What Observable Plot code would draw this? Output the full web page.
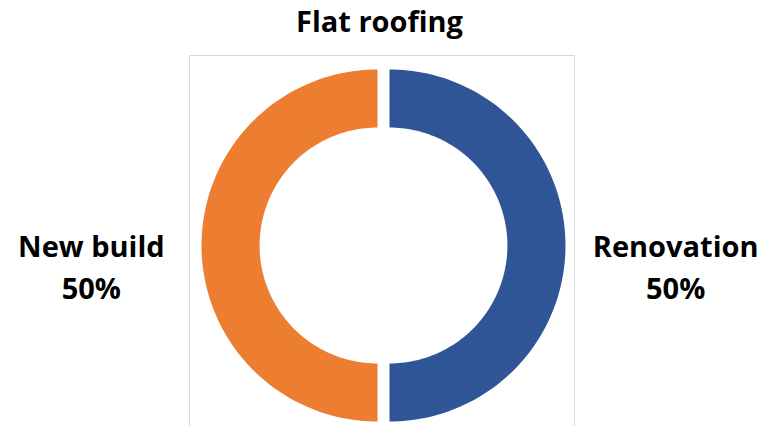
<!DOCTYPE html>
<html>
<head>
<meta charset="utf-8">
<script src="https://cdn.jsdelivr.net/npm/d3@7"></script>
<script src="https://cdn.jsdelivr.net/npm/@observablehq/plot@0.6"></script>
<style>
  html, body { margin: 0; padding: 0; background: #fff; }
  #wrap { width: 764px; height: 426px; overflow: hidden; position: relative; }
</style>
</head>
<body>
<div id="wrap"></div>
<script>
// Data
const title = "Flat roofing";
const categories = ["Renovation", "New build"];
const values = [50, 50];
const colors = ["#2F5597", "#ED7D31"];

// Build slice polygons through d3.pie
const total = d3.sum(values);
const pie = d3.pie().sort(null).value(d => d.value);
const arcs = pie(categories.map((c, i) => ({cat: c, value: values[i]})));
const inner = 0.67, outer = 1, explode = 0.034, steps = 120;
const poly = [];
for (const a of arcs) {
  const mid = (a.startAngle + a.endAngle) / 2;
  const ox = explode * Math.sin(mid), oy = explode * Math.cos(mid);
  for (let k = 0; k <= steps; k++) {
    const t = a.startAngle + (a.endAngle - a.startAngle) * k / steps;
    poly.push({cat: a.data.cat, x: ox + outer * Math.sin(t), y: oy + outer * Math.cos(t)});
  }
  for (let k = steps; k >= 0; k--) {
    const t = a.startAngle + (a.endAngle - a.startAngle) * k / steps;
    poly.push({cat: a.data.cat, x: ox + inner * Math.sin(t), y: oy + inner * Math.cos(t)});
  }
}
const labelR = 1.66;
const labels = arcs.map(a => {
  const mid = (a.startAngle + a.endAngle) / 2;
  return {
    x: labelR * Math.sin(mid),
    y: 0,
    text: a.data.cat + "\n" + Math.round(a.data.value / total * 100) + "%"
  };
});

const font = "'Open Sans', Lato, sans-serif";
const chart = Plot.plot({
  width: 764,
  height: 426,
  marginLeft: 189,
  marginRight: 190,
  marginTop: 55,
  marginBottom: -6,
  style: {background: "white", overflow: "visible"},
  x: {domain: [-1, 1], range: [207, 559], axis: null},
  y: {domain: [-1, 1], range: [421, 69], axis: null},
  color: {domain: categories, range: colors},
  marks: [
    Plot.frame({stroke: "#D9D9D9", strokeWidth: 1}),
    Plot.line(poly, {x: "x", y: "y", z: "cat", fill: "cat", stroke: "none", curve: "linear-closed"}),
    Plot.text(labels, {
      x: "x", y: "y", text: "text", dy: 19, lineHeight: 1.45,
      fontSize: 29, fontWeight: "bold", fontFamily: font, fill: "#000", lineAnchor: "middle"
    }),
    Plot.text([title], {
      frameAnchor: "top", dy: -24, dx: -2.5, text: d => d, lineAnchor: "bottom",
      fontSize: 29, fontWeight: "bold", fontFamily: font, fill: "#000"
    })
  ]
});
document.getElementById("wrap").appendChild(chart);
</script>
</body>
</html>
